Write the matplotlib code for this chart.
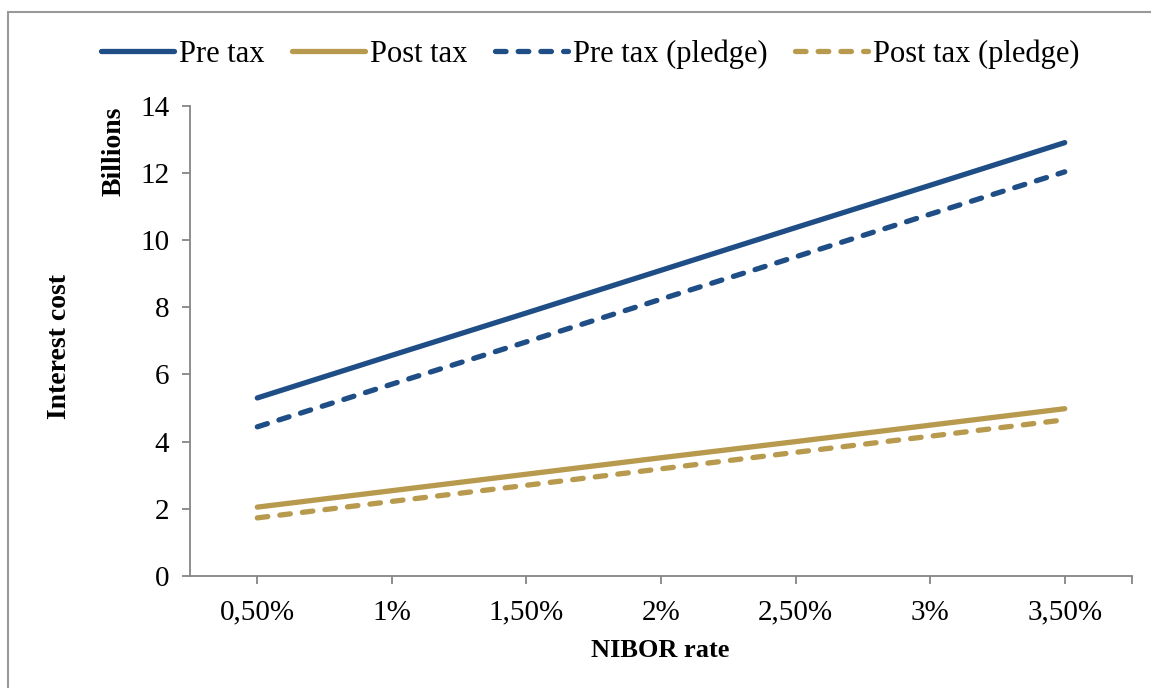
import matplotlib.pyplot as plt
import matplotlib.patches as patches

plt.rcParams['font.family'] = ['Liberation Serif', 'DejaVu Serif']

# NIBOR rate scenarios and interest cost (billions)
rates = ["0,50%", "1%", "1,50%", "2%", "2,50%", "3%", "3,50%"]
pre_tax = [5.30, 6.57, 7.83, 9.10, 10.37, 11.63, 12.90]
post_tax = [2.05, 2.54, 3.03, 3.52, 4.00, 4.49, 4.98]
pre_tax_pledge = [4.44, 5.71, 6.97, 8.24, 9.50, 10.77, 12.03]
post_tax_pledge = [1.73, 2.22, 2.70, 3.19, 3.68, 4.16, 4.65]

blue = "#1f4e86"
gold = "#b89a4e"
grey = "#868686"

fig = plt.figure(figsize=(11.51, 6.88), dpi=100)
ax = fig.add_axes([0.1651, 0.1628, 0.8184, 0.6836])

x = range(len(rates))
lw = 3.8
dash = (0, (2.0, 2.3))
ax.plot(x, pre_tax, color=blue, lw=lw, solid_capstyle='round', label="Pre tax")
ax.plot(x, post_tax, color=gold, lw=lw, solid_capstyle='round', label="Post tax")
ax.plot(x, pre_tax_pledge, color=blue, lw=lw, ls=dash,
        dash_capstyle='round', label="Pre tax (pledge)")
ax.plot(x, post_tax_pledge, color=gold, lw=lw, ls=dash,
        dash_capstyle='round', label="Post tax (pledge)")

ax.set_xlim(-0.5, 6.5)
ax.set_ylim(0, 14)
ax.set_yticks(range(0, 15, 2))
ax.set_xticks(list(x))
ax.set_xticklabels(rates)
ax.set_xticks([6.5], minor=True)

for s in ["top", "right"]:
    ax.spines[s].set_visible(False)
for s in ["left", "bottom"]:
    ax.spines[s].set_color(grey)
    ax.spines[s].set_linewidth(1.3)
ax.tick_params(axis='both', which='both', direction='out', length=6, width=1.3,
               color=grey, labelsize=21)
ax.tick_params(axis='x', pad=11)
ax.tick_params(axis='y', pad=9)

fig.text(0.052, 0.496, "Interest cost", rotation=90, ha='center', va='center',
         fontsize=20, fontweight='bold')
fig.text(0.099, 0.845, "Billions", rotation=90, ha='center', va='top',
         fontsize=20, fontweight='bold')
fig.text(0.574, 0.054, "NIBOR rate", ha='center', va='center',
         fontsize=19, fontweight='bold')

fig.legend(loc='center', bbox_to_anchor=(0.5126, 0.921), ncol=4, frameon=False,
           fontsize=22, handlelength=2.4, handletextpad=0.15, columnspacing=0.9)

# outer chart border
fig.patches.append(patches.Rectangle((0.007, -0.1), 1.2, 1.082, transform=fig.transFigure,
                                     fill=False, edgecolor="#999999", lw=1.5))

fig.savefig("out.png", dpi=100)
